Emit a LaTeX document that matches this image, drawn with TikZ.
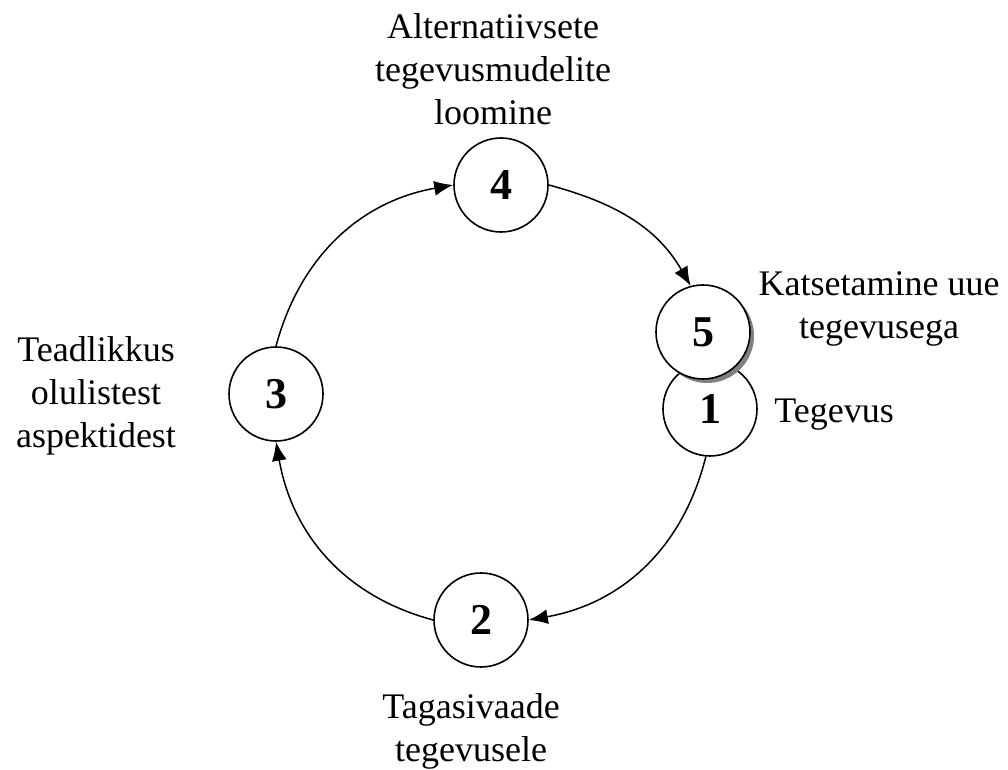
\documentclass[tikz,border=0pt]{standalone}
\usepackage{fontspec}
\setmainfont{Liberation Serif}
\usetikzlibrary{arrows.meta,positioning,shadows}

\begin{document}
\begin{tikzpicture}[x=0.5pt, y=0.5pt]
\tikzset{
    stage/.style={circle, draw=black, line width=0.8pt, fill=white, minimum size=47pt, inner sep=0pt, font=\fontsize{22}{26}\selectfont\bfseries},
    cyclearrow/.style={-{Latex[length=9.5pt,width=7.5pt]}, line width=0.75pt},
    steplabel/.style={align=center, inner sep=0pt, font=\fontsize{18}{21.5}\selectfont}
}
\useasboundingbox (0,0) rectangle (1008,770);

% the five stages of the cycle
\node[stage] (n1) at (710,361) {1};
\node[stage, drop shadow={shadow xshift=2pt, shadow yshift=-2pt, fill=gray, opacity=1}] (n5) at (703,438) {5};
\node[stage] (n4) at (501,585) {4};
\node[stage] (n3) at (276,376) {3};
\node[stage] (n2) at (481,150) {2};

\node[steplabel] (lab4) at (493,701) {Alternatiivsete\\tegevusmudelite\\loomine};
\node[steplabel] (lab5) at (879,461) {Katsetamine uue\\tegevusega};
\node[steplabel, anchor=base] (lab1) at (834,347) {Tegevus};
\node[steplabel] (lab3) at (96,374) {Teadlikkus\\olulistest\\aspektidest};
\node[steplabel] (lab2) at (471,39) {Tagasivaade\\tegevusele};

\draw[cyclearrow] (n3.north) to[out=75, in=190] (n4.west);
\draw[cyclearrow] (n4.east) to[out=-15, in=120] (n5.105);
\draw[cyclearrow] (n1.265) to[out=-104, in=10] (n2.east);
\draw[cyclearrow] (n2.west) to[out=165, in=-80] (n3.south);

\end{tikzpicture}
\end{document}
